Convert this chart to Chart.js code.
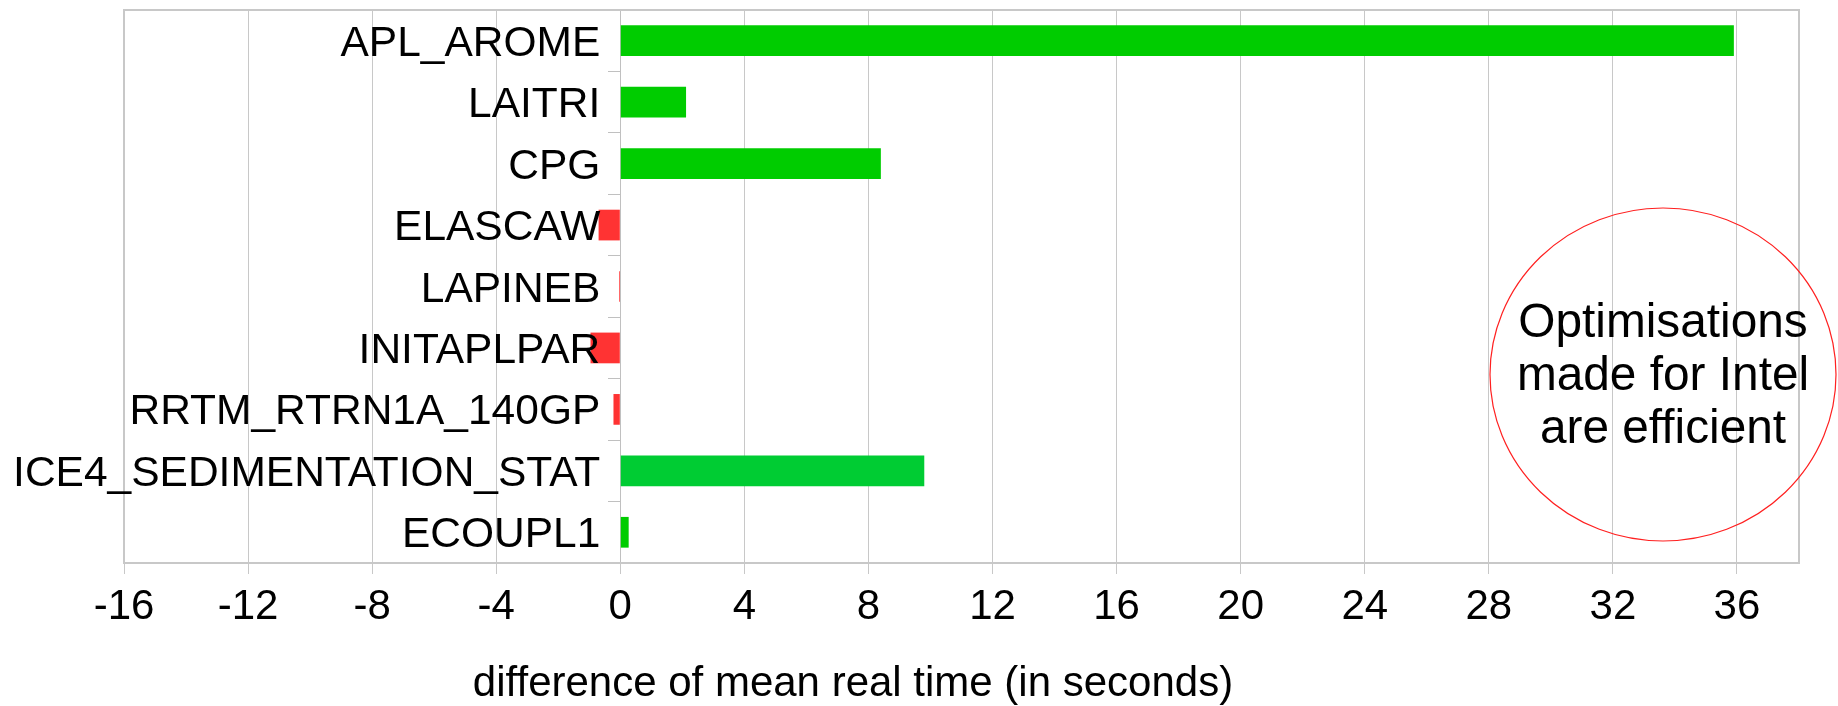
<!DOCTYPE html>
<html>
<head>
<meta charset="utf-8">
<script src="https://cdn.jsdelivr.net/npm/chart.js@4/dist/chart.umd.min.js"></script>
<style>
html,body{margin:0;padding:0;background:#fff;}
#wrap{width:1838px;height:706px;position:relative;}
</style>
</head>
<body>
<div id="wrap"><canvas id="c" width="1838" height="706"></canvas></div>
<script>
const categories = ["APL_AROME","LAITRI","CPG","ELASCAW","LAPINEB","INITAPLPAR","RRTM_RTRN1A_140GP","ICE4_SEDIMENTATION_STAT","ECOUPL1"];
const diffValues = [35.9, 2.12, 8.4, -0.7, -0.04, -0.96, -0.22, 9.8, 0.27];
const barColors = ["#00cc00","#00cc00","#00cc00","#ff3333","#ff3333","#ff3333","#ff3333","#00cc33","#00cc00"];
const xMin = -16, xMax = 38, xStep = 4;
const axisTitle = "difference of mean real time (in seconds)";
const noteLines = ["Optimisations","made for Intel","are efficient"];

const FONT = "'Liberation Sans', Arial, sans-serif";

const extras = {
  id: 'extras',
  beforeDatasetsDraw(chart) {
    const {ctx, chartArea: a} = chart;
    ctx.save();
    ctx.strokeStyle = '#c8c8c8';
    ctx.lineWidth = 2;
    ctx.strokeRect(a.left, a.top, a.right - a.left, a.bottom - a.top);
    ctx.restore();
  },
  afterDraw(chart) {
    const {ctx} = chart;
    const xs = chart.scales.x, ys = chart.scales.y;
    const zero = xs.getPixelForValue(0);
    ctx.save();
    ctx.fillStyle = '#000';
    ctx.font = '42.5px ' + FONT;
    ctx.textAlign = 'right';
    ctx.textBaseline = 'alphabetic';
    categories.forEach((c, i) => {
      const y = ys.getPixelForValue(i);
      ctx.fillText(c, zero - 20, y + 15);
    });
    ctx.font = '42px ' + FONT;
    ctx.textAlign = 'center';
    ctx.fillText(axisTitle, 853, 696);
    ctx.beginPath();
    ctx.ellipse(1663, 374.5, 173, 166.5, 0, 0, Math.PI * 2);
    ctx.strokeStyle = '#ff2020';
    ctx.lineWidth = 1.2;
    ctx.stroke();
    ctx.font = '47.8px ' + FONT;
    ctx.fillStyle = '#000';
    noteLines.forEach((t, i) => ctx.fillText(t, 1663, 337 + i * 53.2));
    ctx.restore();
  }
};

new Chart(document.getElementById('c'), {
  type: 'bar',
  data: {
    labels: categories,
    datasets: [{
      data: diffValues,
      backgroundColor: barColors,
      borderWidth: 0,
      barPercentage: 0.5,
      categoryPercentage: 1.0
    }]
  },
  options: {
    indexAxis: 'y',
    responsive: false,
    animation: false,
    layout: { padding: { left: 124, right: 39, top: 10, bottom: 0 } },
    plugins: { legend: { display: false }, tooltip: { enabled: false } },
    scales: {
      x: {
        type: 'linear',
        min: xMin, max: xMax,
        position: 'bottom',
        afterFit(scale) { scale.height = 143; },
        grid: { color: '#c8c8c8', lineWidth: 1, tickLength: 11, tickColor: '#c8c8c8' },
        border: { display: true, color: '#c8c8c8', width: 2 },
        ticks: {
          stepSize: xStep,
          includeBounds: false,
          color: '#000',
          padding: 8,
          font: { family: FONT, size: 42 },
          maxRotation: 0
        }
      },
      y: {
        type: 'category',
        position: { x: 0 },
        offset: true,
        grid: { display: true, drawOnChartArea: false, drawTicks: true, tickLength: 12, tickColor: '#c0c0c0', offset: true },
        border: { display: true, color: '#c0c0c0', width: 1 },
        ticks: { display: false }
      }
    }
  },
  plugins: [extras]
});
</script>
</body>
</html>
